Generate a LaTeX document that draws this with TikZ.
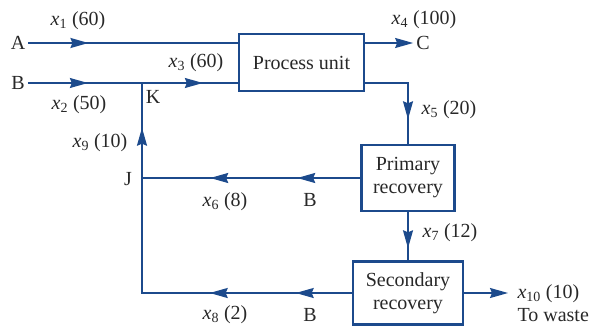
\documentclass[tikz,border=0pt]{standalone}
\usepackage{fontspec}
\setmainfont{Liberation Serif}
\usepackage{tikz}
\usetikzlibrary{positioning,arrows.meta,calc,decorations.markings}

\definecolor{pipe}{RGB}{28,74,140}
\definecolor{ink}{RGB}{40,40,40}
\newcommand{\xs}[2]{\textit{x}\textsubscript{#1}\ (#2)}

\begin{document}
\begin{tikzpicture}[x=1pt,y=-1pt,
    >={Stealth[length=18pt,width=10pt,inset=2pt]},
    unit/.style={rectangle,draw=pipe,line width=2.6pt,align=center,inner sep=2pt},
    flow/.style={draw=pipe,line width=1.6pt},
    arrowat/.style={postaction={decorate,decoration={markings,
        mark=at position #1 with {\arrow[pipe]{>}}}}},
    every node/.style={font=\fontsize{20}{23}\selectfont,text=ink}]
  \useasboundingbox (0,0) rectangle (596,326);
  % units
  \node[unit,minimum width=125pt,minimum height=57pt] (proc) at (301.5,62.5) {Process unit};
  \node[unit,minimum width=93pt,minimum height=66pt] (prim) at (408,178) {Primary\\recovery};
  \node[unit,minimum width=110pt,minimum height=63pt] (sec) at (408,293) {Secondary\\recovery};
  % feeds and products
  \node[inner sep=3pt] (A) at (18,43) {A};
  \node[inner sep=3pt] (B) at (18,83) {B};
  \node[inner sep=3pt] (C) at (423,43) {C};
  \coordinate (K) at (142,83);
  \coordinate (J) at (142,178);
  \coordinate (L) at (142,293);
  \coordinate (W) at (508,293);
  \node (Jl) at (128,179) {J};
  \node (Kl) at (153,97) {K};
  \node (B1) at (310,200) {B};
  \node (B2) at (310,315) {B};
  % streams
  \draw[flow,arrowat=60pt] (A) -- (A -| proc.west);
  \draw[flow,arrowat=60pt,arrowat=175pt] (B) -- (B -| proc.west);
  \draw[flow,->] (proc.east |- C) -- (C);
  \draw[flow,arrowat=79pt] (proc.east |- B) -| (prim.north);
  \draw[flow,arrowat=36pt] (prim.south) -- (sec.north);
  \draw[flow,->] (sec.east) -- (W);
  \draw[flow,arrowat=63pt,arrowat=150pt] (prim.west) -- (J);
  \draw[flow,arrowat=56pt,arrowat=142pt,arrowat=375pt] (sec.west) -- (L) -- (K);
  % labels
  \node (l1) at (78,21) {\xs{1}{60}};
  \node (l2) at (79,105) {\xs{2}{50}};
  \node (l3) at (196,63) {\xs{3}{60}};
  \node (l4) at (424,20) {\xs{4}{100}};
  \node (l5) at (449,110) {\xs{5}{20}};
  \node (l6) at (225,202) {\xs{6}{8}};
  \node (l7) at (450,233) {\xs{7}{12}};
  \node (l8) at (225,315) {\xs{8}{2}};
  \node (l9) at (100,143) {\xs{9}{10}};
  \node[anchor=west,align=left] (l10) at (514,303) {\xs{10}{10}\\To waste};
\end{tikzpicture}
\end{document}
